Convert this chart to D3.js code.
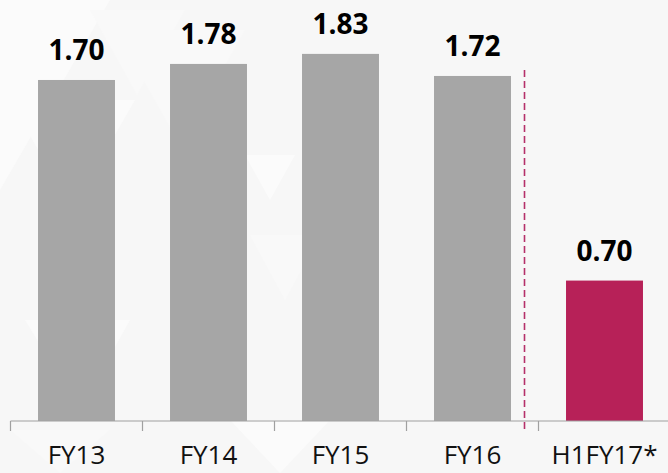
<!DOCTYPE html>
<html>
<head>
<meta charset="utf-8">
<script src="https://cdn.jsdelivr.net/npm/d3@7"></script>
<style>
  html, body { margin: 0; padding: 0; background: #f7f7f7; }
  svg { display: block; }
</style>
</head>
<body>
<svg id="svg"></svg>
<script>
const categories = ['FY13', 'FY14', 'FY15', 'FY16', 'H1FY17*']
const values = [1.70, 1.78, 1.83, 1.72, 0.70]
const valueLabels = ['1.70', '1.78', '1.83', '1.72', '0.70']
const highlight = ['H1FY17*']

const w = 668
const h = 473
const baseY = 421

const svg = d3.select('#svg')
  .attr('width', w).attr('height', h)

// faint background shapes
const bg = svg.append('g')
const tris = [
  [[0, 0], [110, 0], [0, 190]],
  [[90, 10], [185, 10], [137, 95]],
  [[10, 100], [135, 100], [72, 210]],
  [[115, 30], [245, 30], [180, 145]],
  [[25, 320], [130, 320], [80, 410]],
  [[250, 235], [320, 235], [285, 300]],
  [[245, 155], [295, 155], [270, 200]],
  [[10, 430], [110, 430], [60, 473]],
  [[230, 420], [330, 420], [280, 473]]
]
bg.selectAll('path').data(tris).enter().append('path')
  .attr('d', d => 'M' + d.join('L') + 'Z')
  .attr('fill', (d, i) => i % 2 ? '#f9f9f9' : '#fbfbfb')

let x = d3.scaleBand()
  .domain(categories)
  .range([10.5, 670.5])
  .paddingInner(0.417)
  .paddingOuter(0.2085)

let y = d3.scaleLinear()
  .domain([0, 2.1])
  .range([baseY, baseY - 2.1 * 200.6])

const gap = (x.step() - x.bandwidth()) / 2

// bars
svg.append('g').selectAll('rect')
  .data(categories)
  .enter().append('rect')
  .attr('x', d => x(d))
  .attr('width', x.bandwidth())
  .attr('y', (d, i) => y(values[i]))
  .attr('height', (d, i) => y(0) - y(values[i]))
  .attr('fill', d => highlight.includes(d) ? '#b72158' : '#a6a6a6')

// value labels
svg.append('g').selectAll('text')
  .data(categories)
  .enter().append('text')
  .attr('x', d => x(d) + x.bandwidth() / 2)
  .attr('y', (d, i) => y(values[i]) - 20)
  .attr('text-anchor', 'middle')
  .style('font-family', '"Open Sans", sans-serif')
  .style('font-weight', 'bold')
  .style('font-size', '28px')
  .attr('fill', '#000')
  .text((d, i) => valueLabels[i])

// axis line and ticks at band boundaries
const axis = svg.append('g')
axis.append('line')
  .attr('x1', x(categories[0]) - gap).attr('x2', w)
  .attr('y1', baseY).attr('y2', baseY)
  .attr('stroke', '#a0a0a0').attr('stroke-width', 1.2)

axis.selectAll('line.tick')
  .data(categories)
  .enter().append('line')
  .attr('class', 'tick')
  .attr('x1', d => x(d) - gap).attr('x2', d => x(d) - gap)
  .attr('y1', baseY).attr('y2', baseY + 10)
  .attr('stroke', '#a0a0a0').attr('stroke-width', 1.2)

axis.selectAll('text')
  .data(categories)
  .enter().append('text')
  .attr('x', d => x(d) + x.bandwidth() / 2)
  .attr('y', 464)
  .attr('text-anchor', 'middle')
  .style('font-family', '"Open Sans", sans-serif')
  .style('font-size', '26px')
  .attr('fill', '#111')
  .text(d => d)

// dashed divider before the half-year bar
const divX = x(highlight[0]) - gap - 14
svg.append('line')
  .attr('x1', divX).attr('x2', divX)
  .attr('y1', y(1.75)).attr('y2', baseY + 12)
  .attr('stroke', '#b5306a')
  .attr('stroke-width', 1.6)
  .attr('stroke-dasharray', '7 4')
</script>
</body>
</html>
